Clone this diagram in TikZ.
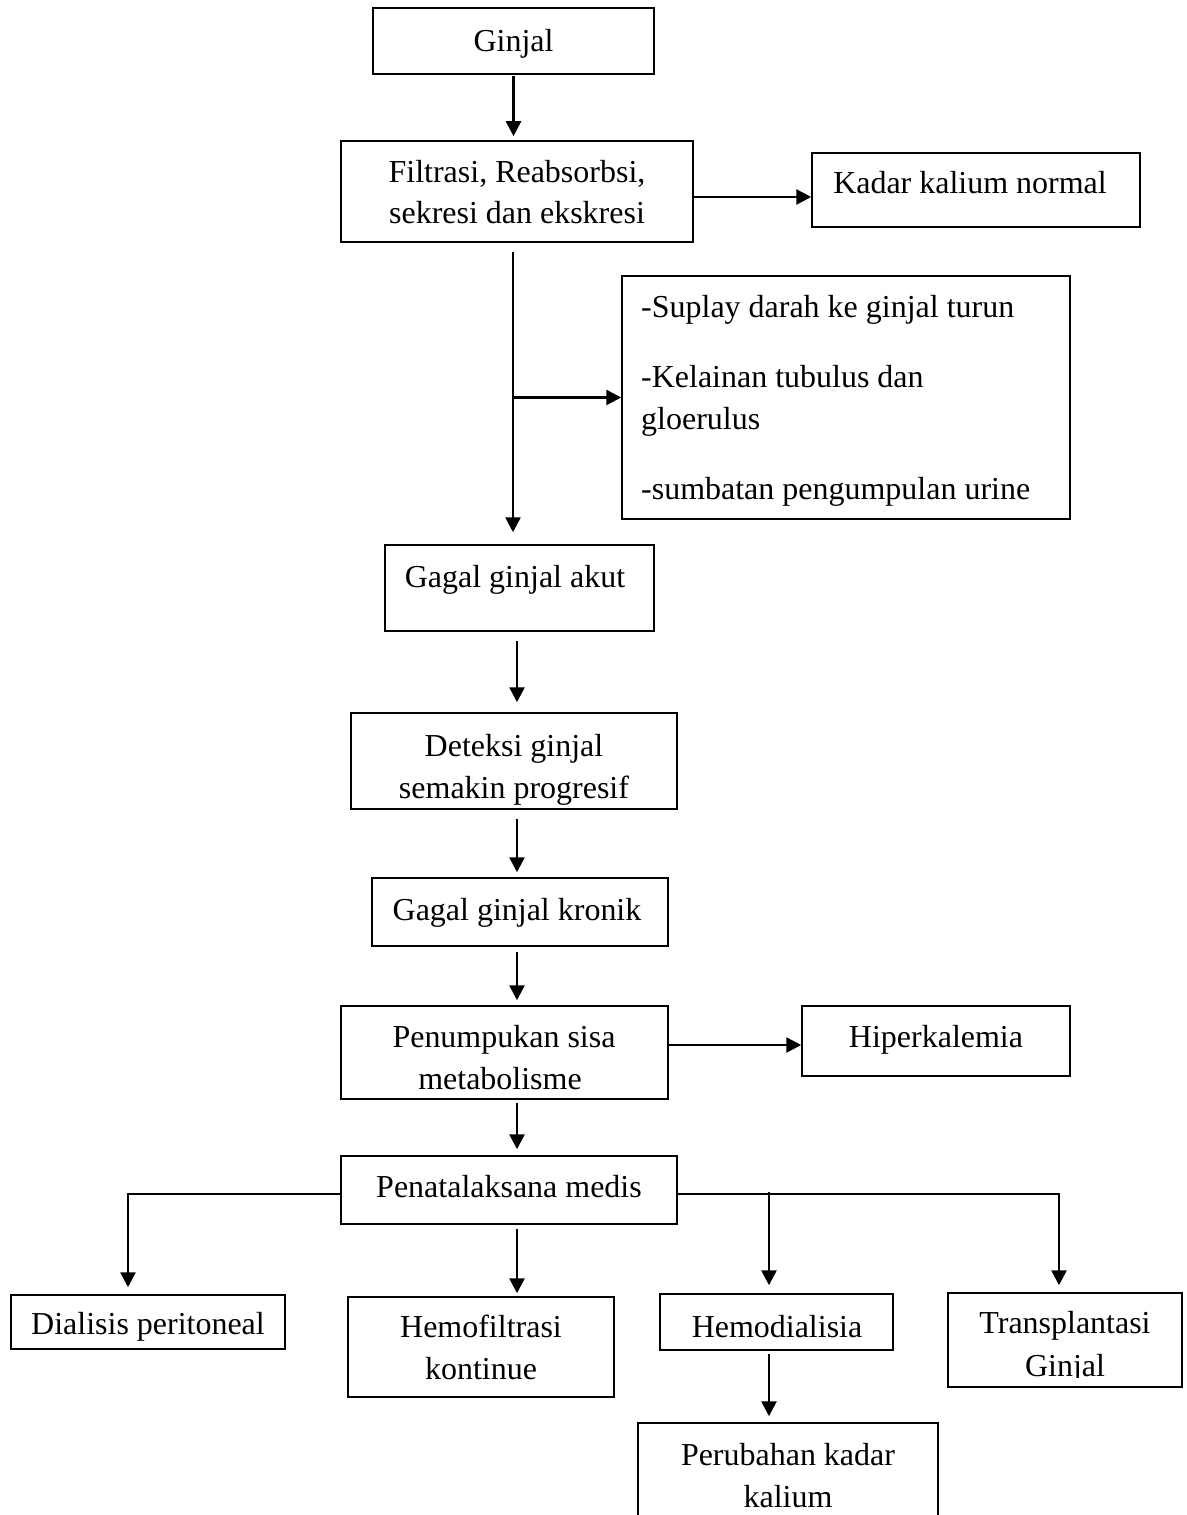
\documentclass[tikz,border=0pt]{standalone}
\usepackage{fontspec}
\setmainfont{Liberation Serif}
\usetikzlibrary{arrows.meta,calc}
\begin{document}
\begin{tikzpicture}[x=1bp,y=-1bp,
  box/.style={draw, line width=1.5bp, inner sep=0pt, rectangle},
  txt/.style={inner sep=0pt, anchor=base, font=\fontsize{32.1}{42}\selectfont},
  ltxt/.style={txt, anchor=base west},
  arr/.style={line width=2.6bp, -{Triangle[length=15bp,width=15bp]}},
  ln/.style={line width=1.8bp}]
\useasboundingbox (0,0) rectangle (1186,1515);
\fill[white] (0,0) rectangle (1186,1515);

% boxes
\node[box, minimum width=281bp, minimum height=66bp]  (ginjal)   at (513.5,41)   {};
\node[box, minimum width=352bp, minimum height=101bp] (filtrasi) at (517,191.5)  {};
\node[box, minimum width=328bp, minimum height=74bp]  (kadar)    at (976,190)    {};
\node[box, minimum width=448bp, minimum height=243bp] (sebab)    at (846,397.5)  {};
\node[box, minimum width=269bp, minimum height=86bp]  (akut)     at (519.5,588)  {};
\node[box, minimum width=326bp, minimum height=96bp]  (deteksi)  at (514,761)    {};
\node[box, minimum width=296bp, minimum height=68bp]  (kronik)   at (520,912)    {};
\node[box, minimum width=327bp, minimum height=93bp]  (tumpuk)   at (504.5,1052.5) {};
\node[box, minimum width=268bp, minimum height=70bp]  (hiper)    at (936,1041)   {};
\node[box, minimum width=336bp, minimum height=68bp]  (medis)    at (509,1190)   {};
\node[box, minimum width=274bp, minimum height=54bp]  (dialisis) at (148,1322)   {};
\node[box, minimum width=266bp, minimum height=100bp] (hemofil)  at (481,1347)   {};
\node[box, minimum width=233bp, minimum height=56bp]  (hemodia)  at (776.5,1322) {};
\node[box, minimum width=234bp, minimum height=94bp]  (trans)    at (1065,1340)  {};
\node[box, minimum width=300bp, minimum height=110bp] (perubahan) at (788,1478)  {};

% texts
\node[txt] (tginjal) at (513.5,52) {Ginjal};
\node[txt] (tfil1) at (517,182) {Filtrasi, Reabsorbsi,};
\node[txt] (tfil2) at (517,223) {sekresi dan ekskresi};
\node[txt] (tkadar) at (970,193) {Kadar kalium normal};
\node[ltxt] (tseb1) at (641,317) {-Suplay darah ke ginjal turun};
\node[ltxt] (tseb2) at (641,387) {-Kelainan tubulus dan};
\node[ltxt] (tseb3) at (641,429) {gloerulus};
\node[ltxt] (tseb4) at (641,499) {-sumbatan pengumpulan urine};
\node[txt] (takut) at (515,587) {Gagal ginjal akut};
\node[txt] (tdet1) at (514,756) {Deteksi ginjal};
\node[txt] (tdet2) at (514,798) {semakin progresif};
\node[txt] (tkronik) at (517,920) {Gagal ginjal kronik};
\node[txt] (ttum1) at (504,1047) {Penumpukan sisa};
\node[txt] (ttum2) at (500,1089) {metabolisme};
\node[txt] (thiper) at (936,1047) {Hiperkalemia};
\node[txt] (tmedis) at (509,1197) {Penatalaksana medis};
\node[txt] (tdial) at (148,1334) {Dialisis peritoneal};
\node[txt] (thf1) at (481,1337) {Hemofiltrasi};
\node[txt] (thf2) at (481,1379) {kontinue};
\node[txt] (thd) at (777,1337) {Hemodialisia};
\node[txt] (ttr1) at (1065,1333) {Transplantasi};
\begin{scope}
  \clip (948,1293) rectangle (1182,1377);
  \node[txt] (ttr2) at (1065,1376) {Ginjal};
\end{scope}
\node[txt] (tper1) at (788,1465) {Perubahan kadar};
\node[txt] (tper2) at (788,1507) {kalium};

% connectors
\coordinate (axis) at (517,0);
\draw[arr, shorten <=1bp, shorten >=4bp] (ginjal.south) -- (ginjal.south |- filtrasi.north);
\coordinate (fk) at ($(filtrasi.east)+(0,5.5)$);
\draw[arr] (fk) -- (fk -| kadar.west);
\coordinate (vtop) at ($(filtrasi.south)+(-4,9)$);
\draw[arr, shorten >=12bp] (vtop) -- (vtop |- akut.north);
\draw[arr] (vtop |- sebab.west) -- (sebab.west);
\draw[arr, shorten <=9bp, shorten >=10bp] (akut.south -| axis) -- (deteksi.north -| axis);
\draw[arr, shorten <=9bp, shorten >=5bp] (deteksi.south -| axis) -- (kronik.north -| axis);
\draw[arr, shorten <=5bp, shorten >=5bp] (kronik.south -| axis) -- (tumpuk.north -| axis);
\coordinate (th) at ($(hiper.west)+(0,4)$);
\draw[arr] (tumpuk.east |- th) -- (th);
\draw[arr, shorten <=3bp, shorten >=6bp] (tumpuk.south -| axis) -- (medis.north -| axis);
\draw[arr, shorten <=4bp, shorten >=3bp] (medis.south -| axis) -- (hemofil.north -| axis);
% left branch
\coordinate (ml) at ($(medis.west)+(0,4)$);
\coordinate (dl) at ($(dialisis.north)+(-20,0)$);
\draw[ln] (ml) -- (ml -| dl);
\draw[arr, shorten >=7bp] ($(ml -| dl)+(0,-0.9)$) -- (dl);
% right branch
\coordinate (mr) at ($(medis.east)+(0,4)$);
\coordinate (tr) at ($(trans.north)+(-6,0)$);
\draw[ln] (mr) -- (mr -| tr);
\draw[arr, shorten >=7bp] ($(mr -| tr)+(0,-0.9)$) -- (tr);
\coordinate (hd) at ($(hemodia.north)+(-7.5,0)$);
\coordinate (hdtop) at (hd |- mr);
\draw[arr, shorten >=8bp] ($(hdtop)+(0,-2)$) -- (hd);
\draw[arr, shorten <=3bp, shorten >=6bp] (hd |- hemodia.south) -- (hd |- perubahan.north);
\end{tikzpicture}
\end{document}
